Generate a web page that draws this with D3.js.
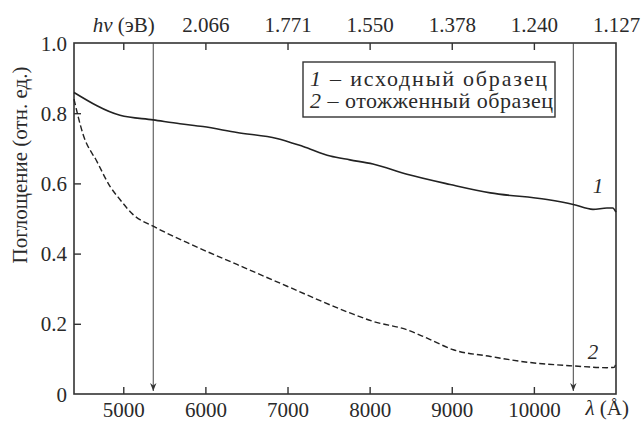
<!DOCTYPE html>
<html>
<head>
<meta charset="utf-8">
<script src="https://cdn.jsdelivr.net/npm/d3@7"></script>
<style>
  body { margin: 0; background: #fff; }
</style>
</head>
<body>
<div id="chart"></div>
<script>
// wavelength (Å) and absorption
var lambda1 = [4400, 4960, 5365, 5690, 5970, 6385, 6870, 7190, 7520, 7760, 8040, 8455, 8980, 9470, 10160, 10480, 10720, 10890, 10960, 11000];
var curve1  = [0.859, 0.794, 0.781, 0.770, 0.762, 0.745, 0.728, 0.705, 0.678, 0.667, 0.655, 0.626, 0.597, 0.573, 0.554, 0.540, 0.526, 0.530, 0.530, 0.518];
var lambda2 = [4400, 4510, 4680, 4840, 4960, 5120, 5365, 5780, 6385, 6995, 7760, 8040, 8455, 8700, 9020, 9470, 9870, 10480, 10890, 10980, 11000];
var curve2  = [0.840, 0.740, 0.662, 0.591, 0.554, 0.511, 0.478, 0.431, 0.369, 0.307, 0.231, 0.207, 0.183, 0.159, 0.126, 0.107, 0.092, 0.080, 0.075, 0.076, 0.090];

var bottomTicks = [5000, 6000, 7000, 8000, 9000, 10000];
var topTicks = [5000, 6000, 7000, 8000, 9000, 10000, 11000];
var topLabels = ["hν (эВ)", "2.066", "1.771", "1.550", "1.378", "1.240", "1.127"];
var yTicks = [0, 0.2, 0.4, 0.6, 0.8, 1.0];
var yLabels = ["0", "0.2", "0.4", "0.6", "0.8", "1.0"];
var arrowsAt = [5365, 10480];
var legendItems = ["1", "2"];
var legendTexts = ["исходный образец", "отожженный образец"];

var width = 641, height = 423;
var plotLeft = 74, plotRight = 616, plotTop = 43, plotBottom = 394;
var serif = "'Liberation Serif', 'Times New Roman', serif";
var fs = 21;

var svg = d3.select("#chart").append("svg")
	.attr("width", width)
	.attr("height", height);

var x = d3.scaleLinear().domain([4400, 11000]).range([plotLeft, plotRight]);
var y = d3.scaleLinear().domain([0, 1]).range([plotBottom, plotTop]);

// axes with inward ticks
var gb = svg.append("g")
	.attr("transform", "translate(0," + plotBottom + ")")
	.call(d3.axisBottom(x).tickValues(bottomTicks).tickSize(-7).tickPadding(8).tickFormat(d3.format("d")));
var gt = svg.append("g")
	.attr("transform", "translate(0," + plotTop + ")")
	.call(d3.axisTop(x).tickValues(topTicks).tickSize(-7).tickPadding(11).tickFormat(function(d, i) { return topLabels[i]; }));
var gl = svg.append("g")
	.attr("transform", "translate(" + plotLeft + ",0)")
	.call(d3.axisLeft(y).tickValues(yTicks).tickSize(-7).tickPadding(7).tickFormat(function(d, i) { return yLabels[i]; }));

[gb, gt, gl].forEach(function(g) {
	g.attr("font-size", fs).attr("font-family", serif);
	g.select(".domain").remove();
	g.selectAll("line").attr("stroke", "#333").attr("stroke-width", 1.4);
});
gb.selectAll(".tick text").attr("dy", "0.72em");
gt.selectAll(".tick text").attr("dy", "0");
gl.selectAll(".tick text").attr("dy", "0.34em");
gl.selectAll(".tick").filter(function(d) { return d == 0 || d == 1; }).select("line").remove();
gt.selectAll(".tick").filter(function(d) { return d == 11000; }).select("line").remove();

// italic h v in top label
gt.selectAll(".tick text").filter(function(d) { return d == 5000; })
	.text(null)
	.each(function() {
		var t = d3.select(this);
		t.append("tspan").style("font-style", "italic").text("hv");
		t.append("tspan").text(" (эВ)");
	});

// frame
svg.append("rect")
	.attr("x", plotLeft).attr("y", plotTop)
	.attr("width", plotRight - plotLeft).attr("height", plotBottom - plotTop)
	.attr("fill", "none").attr("stroke", "#333").attr("stroke-width", 1.6);

// arrows
svg.append("defs").append("marker")
	.attr("id", "arr").attr("viewBox", "0 0 10 10")
	.attr("refX", 10).attr("refY", 5)
	.attr("markerWidth", 8).attr("markerHeight", 8)
	.attr("markerUnits", "userSpaceOnUse")
	.attr("orient", "auto")
	.append("path").attr("d", "M0,1 L10,5 L0,9 L3,5 Z").attr("fill", "#333");

svg.selectAll(".arrow").data(arrowsAt).enter().append("line")
	.attr("class", "arrow")
	.attr("x1", function(d) { return x(d); }).attr("x2", function(d) { return x(d); })
	.attr("y1", plotTop).attr("y2", plotBottom - 3)
	.attr("stroke", "#444").attr("stroke-width", 1)
	.attr("marker-end", "url(#arr)");

// curves
var line = d3.line().curve(d3.curveMonotoneX);
svg.append("path")
	.datum(lambda1.map(function(d, i) { return [x(d), y(curve1[i])]; }))
	.attr("d", line)
	.attr("fill", "none").attr("stroke", "#222").attr("stroke-width", 1.6);
svg.append("path")
	.datum(lambda2.map(function(d, i) { return [x(d), y(curve2[i])]; }))
	.attr("d", line)
	.attr("fill", "none").attr("stroke", "#222").attr("stroke-width", 1.4)
	.attr("stroke-dasharray", "6,3");

// curve numbers
svg.append("text").attr("x", 598).attr("y", 193).attr("font-size", fs).style("font-style", "italic").attr("text-anchor", "middle").text("1");
svg.append("text").attr("x", 593).attr("y", 359).attr("font-size", fs).style("font-style", "italic").attr("text-anchor", "middle").text("2");

// axis titles
svg.append("text")
	.attr("transform", "translate(27,165) rotate(-90)")
	.attr("text-anchor", "middle")
	.attr("font-size", fs)
	.text("Поглощение (отн. ед.)");

var lt = svg.append("text").attr("x", 629).attr("y", 415).attr("text-anchor", "end").attr("font-size", fs);
lt.append("tspan").style("font-style", "italic").text("λ");
lt.append("tspan").text(" (Å)");

// legend
svg.append("rect")
	.attr("x", 303).attr("y", 62).attr("width", 252).attr("height", 55)
	.attr("fill", "#fff").attr("stroke", "#333").attr("stroke-width", 1.4);
var legendWidths = [237, 243];
legendItems.forEach(function(d, i) {
	var t = svg.append("text").attr("x", 310).attr("y", 86 + i * 22).attr("font-size", 22)
		.attr("textLength", legendWidths[i]).attr("lengthAdjust", "spacing");
	t.append("tspan").style("font-style", "italic").text(d);
	t.append("tspan").text(" – " + legendTexts[i]);
});

// serif everywhere
svg.selectAll("text").style("font-family", serif).style("fill", "#2a2a2a");
</script>
</body>
</html>
